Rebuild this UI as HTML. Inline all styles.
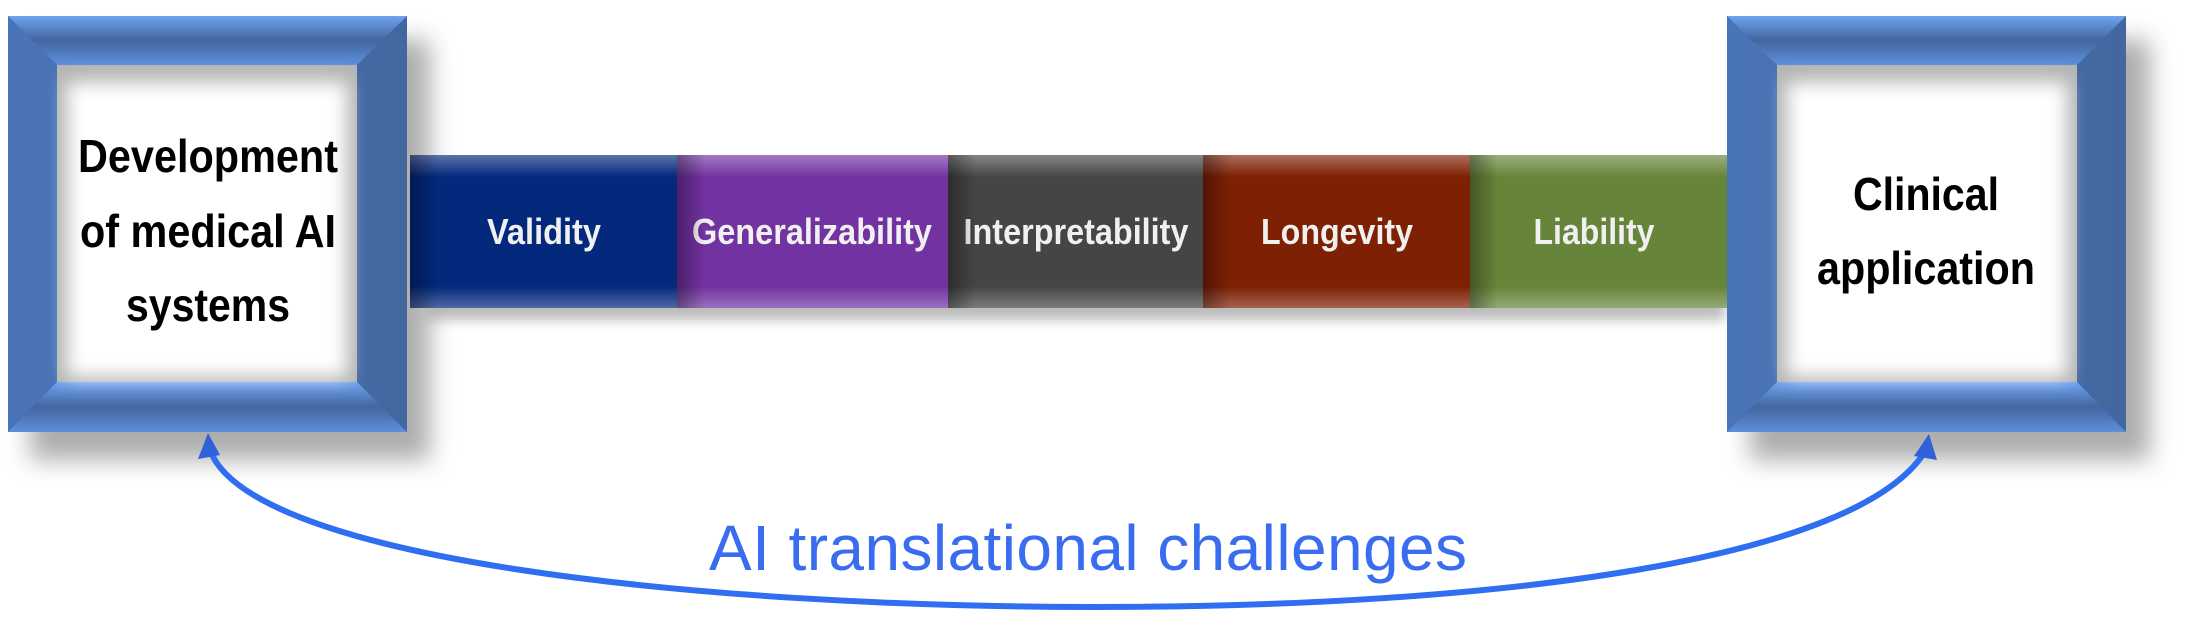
<!DOCTYPE html>
<html><head><meta charset="utf-8"><style>
html,body{margin:0;padding:0;background:#fff;}
svg{display:block;}
text{font-family:"Liberation Sans",Arial,sans-serif;}
</style></head><body>
<svg width="2201" height="623" viewBox="0 0 2201 623">
<defs>
<filter id="blur" x="-20%" y="-20%" width="140%" height="140%"><feGaussianBlur stdDeviation="12"/></filter>
<filter id="blurS" x="-20%" y="-50%" width="140%" height="200%"><feGaussianBlur stdDeviation="6"/></filter>
<filter id="blurI" x="-20%" y="-20%" width="140%" height="140%"><feGaussianBlur stdDeviation="9"/></filter>
<linearGradient id="fv" x1="0" y1="0" x2="0" y2="1"><stop offset="0" stop-color="#6fa3f0"/><stop offset="0.5" stop-color="#4266a0"/><stop offset="1" stop-color="#5e8fdc"/></linearGradient>
<linearGradient id="fh" x1="0" y1="0" x2="1" y2="0"><stop offset="0" stop-color="#4a74b8"/><stop offset="1" stop-color="#43679f"/></linearGradient>
<linearGradient id="bevT" x1="0" y1="0" x2="0" y2="1"><stop offset="0" stop-color="#fff" stop-opacity="0.35"/><stop offset="1" stop-color="#fff" stop-opacity="0"/></linearGradient>
<linearGradient id="bevB" x1="0" y1="1" x2="0" y2="0"><stop offset="0" stop-color="#fff" stop-opacity="0.3"/><stop offset="1" stop-color="#fff" stop-opacity="0"/></linearGradient>
<linearGradient id="bevL" x1="0" y1="0" x2="1" y2="0"><stop offset="0" stop-color="#000" stop-opacity="0.35"/><stop offset="1" stop-color="#000" stop-opacity="0"/></linearGradient>
</defs>

<!-- shadows -->
<rect x="30" y="40" width="400" height="420" fill="#999" filter="url(#blur)" opacity="0.8"/>
<rect x="1750" y="40" width="400" height="420" fill="#999" filter="url(#blur)" opacity="0.8"/>
<rect x="425" y="290" width="1300" height="30" fill="#aaa" filter="url(#blurS)" opacity="0.8"/>

<!-- bars -->
<g>
<g>
<rect x="410" y="155" width="267" height="153" fill="#03287c"/>
<text x="544" y="244" text-anchor="middle" font-size="36" font-weight="bold" fill="#f0f0f0" textLength="114" lengthAdjust="spacingAndGlyphs">Validity</text></g>
<g>
<rect x="677" y="155" width="271" height="153" fill="#7232a2"/>
<text x="812" y="244" text-anchor="middle" font-size="36" font-weight="bold" fill="#f0f0f0" textLength="240" lengthAdjust="spacingAndGlyphs">Generalizability</text></g>
<g>
<rect x="948" y="155" width="255" height="153" fill="#454545"/>
<text x="1076" y="244" text-anchor="middle" font-size="36" font-weight="bold" fill="#f0f0f0" textLength="225" lengthAdjust="spacingAndGlyphs">Interpretability</text></g>
<g>
<rect x="1203" y="155" width="267" height="153" fill="#7e2004"/>
<text x="1337" y="244" text-anchor="middle" font-size="36" font-weight="bold" fill="#f0f0f0" textLength="152" lengthAdjust="spacingAndGlyphs">Longevity</text></g>
<g>
<rect x="1470" y="155" width="257" height="153" fill="#66853a"/>
<text x="1594" y="244" text-anchor="middle" font-size="36" font-weight="bold" fill="#f0f0f0" textLength="121" lengthAdjust="spacingAndGlyphs">Liability</text></g>
<rect x="410" y="155" width="1317" height="22" fill="url(#bevT)"/>
<rect x="410" y="286" width="1317" height="22" fill="url(#bevB)"/>
<rect x="410" y="155" width="28" height="153" fill="url(#bevL)"/>
<rect x="677" y="155" width="28" height="153" fill="url(#bevL)"/>
<rect x="948" y="155" width="28" height="153" fill="url(#bevL)"/>
<rect x="1203" y="155" width="28" height="153" fill="url(#bevL)"/>
<rect x="1470" y="155" width="28" height="153" fill="url(#bevL)"/>
</g>

<!-- left frame -->
<g>
<rect x="8" y="16" width="399" height="416" fill="url(#fh)"/>
<polygon points="8,16 407,16 357,65 57,65" fill="url(#fv)"/>
<polygon points="8,432 407,432 357,382 57,382" fill="url(#fv)"/>
<rect x="57" y="65" width="300" height="317" fill="#b4b4b4"/>
<rect x="67" y="82" width="280" height="295" fill="#fff" filter="url(#blurI)"/>
<g font-size="46" font-weight="bold" fill="#000" text-anchor="middle" lengthAdjust="spacingAndGlyphs">
<text x="208" y="172" textLength="260" lengthAdjust="spacingAndGlyphs">Development</text>
<text x="208" y="247" textLength="256" lengthAdjust="spacingAndGlyphs">of medical AI</text>
<text x="208" y="321" textLength="164" lengthAdjust="spacingAndGlyphs">systems</text>
</g></g>

<!-- right frame -->
<g>
<rect x="1727" y="16" width="399" height="416" fill="url(#fh)"/>
<polygon points="1727,16 2126,16 2077,65 1777,65" fill="url(#fv)"/>
<polygon points="1727,432 2126,432 2077,382 1777,382" fill="url(#fv)"/>
<rect x="1777" y="65" width="300" height="317" fill="#b4b4b4"/>
<rect x="1787" y="82" width="280" height="295" fill="#fff" filter="url(#blurI)"/>
<g font-size="46" font-weight="bold" fill="#000" text-anchor="middle">
<text x="1926" y="210" textLength="146" lengthAdjust="spacingAndGlyphs">Clinical</text>
<text x="1926" y="284" textLength="218" lengthAdjust="spacingAndGlyphs">application</text>
</g></g>

<!-- arrow -->
<path d="M 210 450 C 250 560, 700 607, 1095 607 C 1500 607, 1860 560, 1926 450" fill="none" stroke="#2f6ef0" stroke-width="6"/>
<polygon points="208,433 198,459 220,455" fill="#2f62d8"/>
<polygon points="1929,434 1914,456 1937,460" fill="#2f62d8"/>

<text x="709" y="570" font-size="64" fill="#3a6cf0" textLength="758">AI translational challenges</text>
</svg>
</body></html>
